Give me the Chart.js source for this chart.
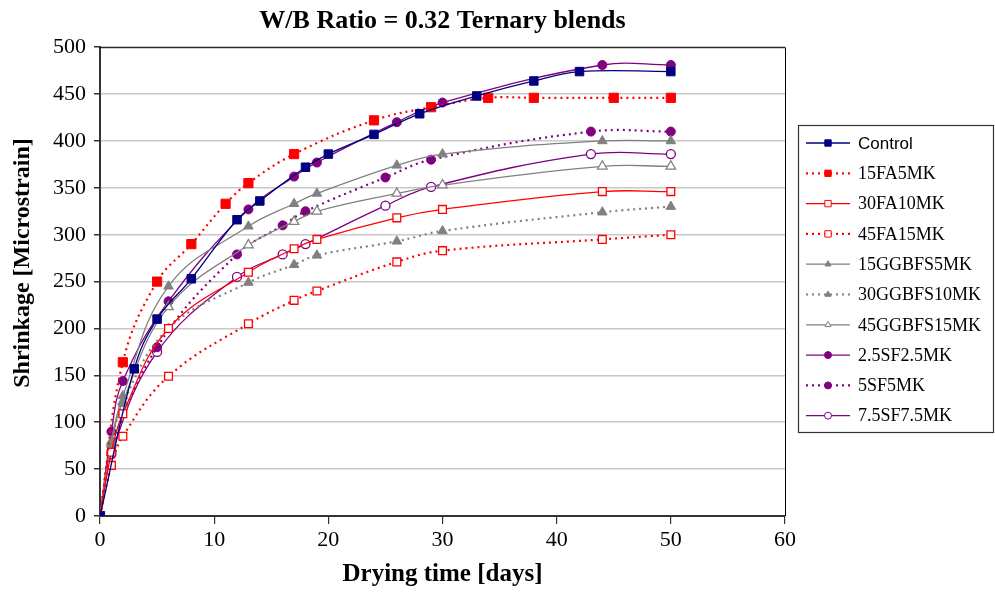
<!DOCTYPE html>
<html>
<head>
<meta charset="utf-8">
<script src="https://cdn.jsdelivr.net/npm/chart.js@4.4.1/dist/chart.umd.min.js"></script>
<style>
  html, body { margin: 0; padding: 0; background: #fff; }
  #wrap { width: 995px; height: 592px; position: relative; }
</style>
</head>
<body>
<div id="wrap"><canvas id="shrinkChart" width="995" height="592"></canvas></div>
<script>
// drying time [days] and shrinkage [microstrain]
const controlDays = [0, 3, 5, 8, 12, 14, 18, 20, 24, 28, 33, 38, 42, 50];
const controlVals = [0, 157, 210, 253, 316, 336, 372, 386, 407, 429, 448, 464, 474, 474];

const fa15Days = [0, 2, 5, 8, 11, 13, 17, 24, 29, 34, 38, 45, 50];
const fa15Vals = [0, 164, 250, 290, 333, 355, 386, 422, 436, 446, 446, 446, 446];

const mixDays = [0, 1, 2, 6, 13, 17, 19, 26, 30, 44, 50];
const fa30Vals = [0, 68, 109, 200, 260, 285, 295, 318, 327, 346, 346];
const fa45Vals = [0, 54, 85, 149, 205, 230, 240, 271, 283, 295, 300];
const gg15Vals = [0, 80, 128, 245, 309, 333, 344, 374, 386, 400, 400];
const gg30Vals = [0, 76, 120, 200, 249, 268, 278, 293, 304, 324, 330];
const gg45Vals = [0, 78, 122, 223, 289, 314, 325, 344, 353, 373, 373];
const sf25Vals = [0, 90, 144, 229, 327, 362, 377, 420, 441, 481, 481];

const sfDays = [0, 1, 5, 12, 16, 18, 25, 29, 43, 50];
const sf5Vals = [0, 69, 180, 279, 310, 325, 361, 380, 410, 410];
const sf75Vals = [0, 66, 175, 255, 279, 290, 331, 351, 386, 386];

const xTicks = [0, 10, 20, 30, 40, 50, 60];
const yTicks = [0, 50, 100, 150, 200, 250, 300, 350, 400, 450, 500];

const NAVY = "#000080", RED = "#ff0000", GREY = "#808080", PURPLE = "#800080";
const DOTS = [2, 4];

function pts(days, vals) {
    return days.map((d, i) => ({ x: d, y: vals[i] }));
}

function series(label, days, vals, color, style, open, dashed, radius) {
    return {
        label,
        data: pts(days, vals),
        borderColor: color,
        backgroundColor: open ? "#ffffff" : color,
        pointBorderColor: color,
        pointBackgroundColor: open ? "#ffffff" : color,
        pointStyle: style,
        pointRadius: radius,
        pointBorderWidth: open ? 1.3 : 1,
        borderWidth: dashed ? 2.2 : 1.3,
        borderDash: dashed ? DOTS : [],
        tension: 0.4,
        fill: false
    };
}

const datasets = [
    series("Control", controlDays, controlVals, NAVY, "rect", false, false, 6),
    series("15FA5MK", fa15Days, fa15Vals, RED, "rect", false, true, 6.5),
    series("30FA10MK", mixDays, fa30Vals, RED, "rect", true, false, 5.5),
    series("45FA15MK", mixDays, fa45Vals, RED, "rect", true, true, 5.5),
    series("15GGBFS5MK", mixDays, gg15Vals, GREY, "triangle", false, false, 5.5),
    series("30GGBFS10MK", mixDays, gg30Vals, GREY, "triangle", false, true, 5.5),
    series("45GGBFS15MK", mixDays, gg45Vals, GREY, "triangle", true, false, 5.5),
    series("2.5SF2.5MK", mixDays, sf25Vals, PURPLE, "circle", false, false, 4.5),
    series("5SF5MK", sfDays, sf5Vals, PURPLE, "circle", false, true, 4.5),
    series("7.5SF7.5MK", sfDays, sf75Vals, PURPLE, "circle", true, false, 4.5)
];

const serif = "'Liberation Serif', 'DejaVu Serif', serif";

// frame on top/right of the plot, the y title, and the boxed legend on the right
const framePlugin = {
    id: "frameAndLegend",
    afterDraw(chart) {
        const { ctx, chartArea: a } = chart;
        ctx.save();
        ctx.strokeStyle = "#000";
        ctx.lineWidth = 1;
        ctx.beginPath();
        ctx.moveTo(a.left, a.top + 0.5);
        ctx.lineTo(a.right + 0.5, a.top + 0.5);
        ctx.lineTo(a.right + 0.5, a.bottom);
        ctx.stroke();

        // y axis title (sits a bit above the axis middle in the original)
        ctx.save();
        ctx.translate(23, 263);
        ctx.rotate(-Math.PI / 2);
        ctx.fillStyle = "#000";
        ctx.font = "bold 24px " + serif;
        ctx.textAlign = "center";
        ctx.textBaseline = "middle";
        ctx.fillText("Shrinkage [Microstrain]", 0, 0);
        ctx.restore();

        const bx = 798, by = 125, bw = 195, bh = 307;
        ctx.lineWidth = 1.2;
        ctx.strokeStyle = "#333";
        ctx.strokeRect(bx + 0.5, by + 0.5, bw, bh);

        chart.data.datasets.forEach((ds, i) => {
            const y = 143 + i * 30.3;
            ctx.strokeStyle = ds.borderColor;
            ctx.lineWidth = ds.borderWidth;
            ctx.setLineDash(ds.borderDash);
            ctx.beginPath();
            ctx.moveTo(806, y);
            ctx.lineTo(850, y);
            ctx.stroke();
            ctx.setLineDash([]);
            ctx.fillStyle = ds.pointBackgroundColor;
            ctx.strokeStyle = ds.pointBorderColor;
            ctx.lineWidth = 1;
            Chart.helpers.drawPoint(ctx, {
                pointStyle: ds.pointStyle,
                radius: ds.pointStyle === "rect" ? 4.5 : 3.5,
                rotation: 0,
                borderWidth: 1
            }, 828, y);
            ctx.fillStyle = "#000";
            ctx.font = i === 0 ? "17px 'Liberation Sans', Arial, sans-serif" : "18px " + serif;
            ctx.textBaseline = "middle";
            ctx.textAlign = "left";
            ctx.fillText(ds.label, 858, y + 1);
        });
        ctx.restore();
    }
};

new Chart(document.getElementById("shrinkChart"), {
    type: "line",
    data: { datasets },
    plugins: [framePlugin],
    options: {
        responsive: false,
        animation: false,
        layout: { padding: { left: 0, right: 210, top: 0, bottom: 0 } },
        plugins: {
            legend: { display: false },
            tooltip: { enabled: false },
            title: {
                display: true,
                fullSize: false,
                text: "W/B Ratio = 0.32 Ternary blends",
                color: "#000",
                font: { family: serif, size: 26, weight: "bold" },
                padding: { top: 6, bottom: 10 }
            }
        },
        scales: {
            x: {
                type: "linear",
                min: 0,
                max: 60,
                afterBuildTicks: s => { s.ticks = xTicks.map(v => ({ value: v })); },
                afterFit: s => { s.height = 76; },
                ticks: { color: "#000", font: { family: serif, size: 22 }, padding: 3, maxRotation: 0 },
                grid: { drawOnChartArea: false, drawTicks: true, tickLength: 8, tickColor: "#333", lineWidth: 1.2 },
                border: { color: "#333", width: 2 },
                title: {
                    display: true,
                    text: "Drying time [days]",
                    color: "#000",
                    font: { family: serif, size: 25, weight: "bold" },
                    padding: { top: 0, bottom: 2 }
                }
            },
            y: {
                min: 0,
                max: 500,
                afterBuildTicks: s => { s.ticks = yTicks.map(v => ({ value: v })); },
                afterFit: s => { s.width = 100; },
                ticks: { color: "#000", font: { family: serif, size: 22 }, padding: 8 },
                grid: { color: "#c8c8c8", lineWidth: 1.5, tickLength: 6, tickColor: "#333", drawTicks: true },
                border: { color: "#333", width: 2 }
            }
        }
    }
});
</script>
</body>
</html>
